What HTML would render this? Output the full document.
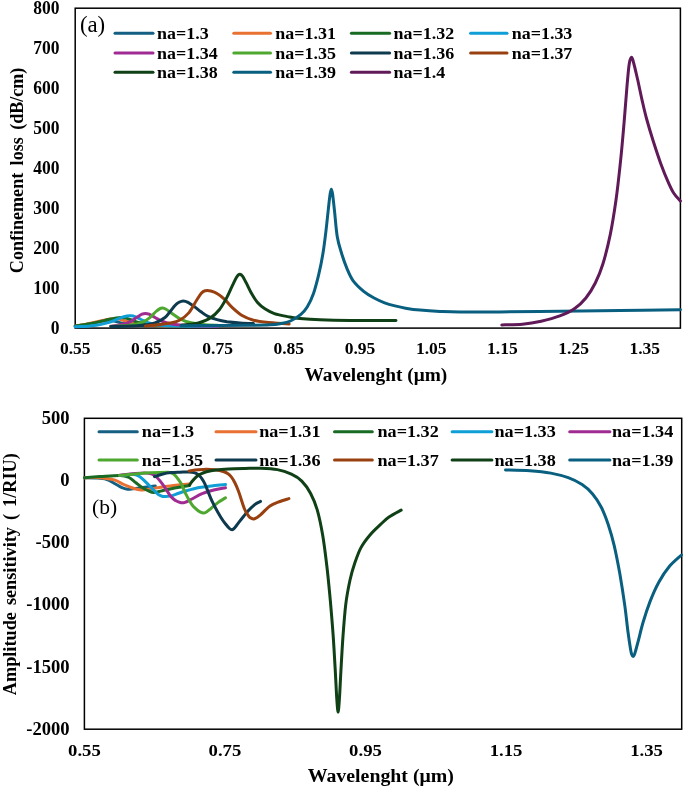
<!DOCTYPE html>
<html><head><meta charset="utf-8"><title>chart</title>
<style>html,body{margin:0;padding:0;background:#fff}svg{display:block;will-change:transform}text{font-family:"Liberation Serif",serif;fill:#000}</style></head><body>
<svg width="685" height="789" viewBox="0 0 685 789">
<rect width="685" height="789" fill="#fff"/>
<rect x="75.2" y="8.2" width="605.2" height="319.9" fill="none" stroke="#000" stroke-width="1.5"/>
<g fill="none" stroke-width="3.00" stroke-linecap="round" stroke-linejoin="round">
<path stroke="#156082" d="M75.2,326.2C76.8,326.0 81.7,325.4 85.0,324.8C88.3,324.2 92.0,323.4 95.0,322.8C98.0,322.2 100.8,321.4 103.0,321.0C105.2,320.6 106.3,320.3 108.0,320.3C109.7,320.3 111.0,320.4 113.0,320.8C115.0,321.2 117.2,322.0 120.0,322.6C122.8,323.2 125.6,324.1 130.0,324.6C134.4,325.1 143.7,325.6 146.4,325.8"/>
<path stroke="#E97132" d="M75.2,326.0C76.8,325.8 81.7,325.1 85.0,324.5C88.3,323.9 91.7,323.1 95.0,322.3C98.3,321.6 102.2,320.6 105.0,320.0C107.8,319.4 110.2,319.0 112.0,318.8C113.8,318.6 114.5,318.5 116.0,318.6C117.5,318.7 119.0,319.1 121.0,319.6C123.0,320.1 125.2,321.1 128.0,321.8C130.8,322.5 133.5,323.4 138.0,324.0C142.5,324.6 147.7,325.1 155.0,325.5C162.3,325.9 177.5,326.2 182.0,326.3"/>
<path stroke="#196B24" d="M75.2,326.0C77.7,325.6 85.0,324.7 90.0,323.8C95.0,322.9 100.8,321.3 105.0,320.4C109.2,319.5 112.3,318.7 115.0,318.2C117.7,317.7 119.3,317.5 121.0,317.4C122.7,317.3 123.3,317.4 125.0,317.8C126.7,318.2 128.5,319.0 131.0,319.8C133.5,320.6 136.5,322.0 140.0,322.8C143.5,323.6 145.0,324.2 152.0,324.8C159.0,325.4 177.0,326.0 182.0,326.2"/>
<path stroke="#0F9ED5" d="M75.2,326.8C77.7,326.6 85.9,326.3 90.0,325.9C94.1,325.5 96.5,325.3 100.0,324.6C103.5,323.9 107.3,323.1 110.8,321.9C114.3,320.7 118.3,318.6 121.0,317.6C123.7,316.6 125.3,316.3 127.0,316.0C128.7,315.7 129.7,315.7 131.0,315.8C132.3,315.9 133.3,316.0 135.0,316.6C136.7,317.2 138.8,318.5 141.0,319.5C143.2,320.5 145.2,321.9 148.0,322.8C150.8,323.7 153.5,324.5 158.0,325.0C162.5,325.5 165.1,325.8 175.0,326.0C184.9,326.2 210.5,326.4 217.6,326.5"/>
<path stroke="#A02B93" d="M110.8,326.3C112.7,326.0 118.8,325.2 122.0,324.5C125.2,323.8 127.5,323.0 130.0,321.8C132.5,320.6 135.0,318.5 137.0,317.2C139.0,315.9 140.6,314.8 142.0,314.2C143.4,313.6 144.1,313.4 145.3,313.4C146.5,313.4 147.4,313.5 149.0,314.2C150.6,314.9 152.8,316.3 155.0,317.5C157.2,318.7 159.2,320.1 162.0,321.2C164.8,322.3 167.3,323.3 172.0,324.0C176.7,324.7 182.4,325.2 190.0,325.6C197.6,326.0 213.0,326.1 217.6,326.2"/>
<path stroke="#4EA72E" d="M110.8,326.5C114.0,326.3 124.8,325.9 130.0,325.2C135.2,324.5 138.7,323.8 142.0,322.5C145.3,321.2 147.7,319.3 150.0,317.5C152.3,315.7 154.3,313.0 156.0,311.5C157.7,310.0 158.9,309.2 160.0,308.6C161.1,308.0 161.5,308.0 162.5,308.1C163.5,308.2 164.4,308.4 166.0,309.3C167.6,310.2 169.7,311.9 172.0,313.5C174.3,315.1 177.0,317.3 180.0,318.8C183.0,320.3 186.2,321.6 190.0,322.5C193.8,323.4 198.4,324.0 203.0,324.5C207.6,325.0 215.2,325.2 217.6,325.3"/>
<path stroke="#0D3A4E" d="M110.8,326.6C115.7,326.4 132.6,326.2 140.0,325.6C147.4,325.0 150.8,324.4 155.0,323.0C159.2,321.6 162.5,319.4 165.0,317.5C167.5,315.6 168.3,313.7 170.0,311.7C171.7,309.7 173.5,307.1 175.0,305.5C176.5,303.9 177.6,303.1 179.0,302.3C180.4,301.5 181.7,300.9 183.2,300.9C184.7,300.9 186.1,301.3 188.0,302.3C189.9,303.3 192.5,305.3 194.7,306.9C196.9,308.5 198.8,310.2 201.0,311.8C203.2,313.4 205.3,315.1 208.0,316.4C210.7,317.7 213.8,318.7 217.0,319.6C220.2,320.5 223.2,321.1 227.0,321.7C230.8,322.2 235.6,322.6 240.0,322.9C244.4,323.2 251.2,323.5 253.5,323.6"/>
<path stroke="#994010" d="M145.3,326.0C147.8,325.8 155.9,325.1 160.0,324.6C164.1,324.1 166.8,323.7 170.0,323.0C173.2,322.3 176.3,321.9 179.5,320.2C182.7,318.5 186.2,315.9 189.0,312.6C191.8,309.3 194.5,303.5 196.6,300.3C198.7,297.1 199.9,294.9 201.3,293.3C202.7,291.7 203.5,291.2 205.1,290.8C206.7,290.4 208.8,290.5 210.8,291.0C212.9,291.5 215.0,292.2 217.4,293.7C219.8,295.1 222.5,297.3 225.0,299.7C227.5,302.1 229.8,305.3 232.6,307.9C235.4,310.5 238.6,313.4 242.1,315.5C245.6,317.6 249.1,319.0 253.5,320.2C257.9,321.4 262.8,321.9 268.7,322.5C274.6,323.1 285.8,323.8 289.2,324.0"/>
<path stroke="#0F4016" d="M181.4,325.2C182.8,325.1 187.2,324.7 190.0,324.3C192.8,323.9 195.2,324.0 198.5,323.0C201.8,322.0 206.4,320.5 209.9,318.3C213.4,316.1 216.5,313.3 219.3,309.8C222.1,306.3 224.7,301.5 226.9,297.4C229.1,293.3 231.0,288.4 232.6,285.1C234.2,281.8 235.4,279.2 236.4,277.5C237.4,275.8 237.7,275.5 238.3,275.0C238.9,274.5 239.3,274.3 239.8,274.3C240.3,274.3 240.9,274.6 241.4,275.0C241.9,275.4 242.2,275.4 243.1,276.9C244.0,278.4 245.5,281.4 246.9,284.2C248.3,287.0 249.9,290.6 251.6,293.6C253.3,296.6 255.1,299.7 257.3,302.2C259.5,304.7 262.0,306.9 264.9,308.8C267.8,310.7 270.6,312.3 274.4,313.6C278.2,314.9 283.4,315.8 287.7,316.6C292.0,317.4 294.6,318.0 300.0,318.5C305.4,319.0 311.7,319.5 320.0,319.8C328.3,320.1 337.3,320.3 350.0,320.4C362.7,320.5 388.3,320.6 396.0,320.6"/>
<path stroke="#095F80" d="M181.0,325.7C187.5,325.7 208.5,325.6 220.0,325.5C231.5,325.4 241.7,325.4 250.0,325.3C258.3,325.2 265.0,325.1 270.0,324.8C275.0,324.5 276.6,324.3 280.0,323.7C283.4,323.1 287.0,322.6 290.5,321.0C294.0,319.4 298.1,316.6 300.9,314.3C303.7,312.0 305.1,310.5 307.2,307.0C309.3,303.5 311.6,298.8 313.5,293.4C315.4,288.0 317.1,281.2 318.7,274.6C320.3,268.0 321.7,261.0 322.9,253.7C324.1,246.4 325.1,238.3 326.0,230.6C326.9,222.9 327.8,213.8 328.5,207.6C329.2,201.4 329.7,196.6 330.2,193.5C330.7,190.4 330.9,189.2 331.3,189.2C331.7,189.2 331.9,189.7 332.5,193.5C333.1,197.3 333.8,204.6 334.6,211.8C335.4,219.0 336.1,229.9 337.3,236.9C338.5,243.9 340.1,248.5 341.7,253.7C343.3,258.9 345.0,263.8 346.9,268.3C348.8,272.8 350.4,277.0 353.2,280.8C356.0,284.6 360.2,288.4 363.7,291.3C367.2,294.2 370.6,296.1 374.1,298.0C377.6,299.9 381.1,301.5 384.6,302.8C388.1,304.1 391.5,305.0 395.0,305.9C398.5,306.8 401.3,307.5 405.5,308.2C409.7,308.9 414.2,309.6 420.0,310.1C425.8,310.7 433.3,311.2 440.0,311.5C446.7,311.8 450.0,312.0 460.0,312.1C470.0,312.2 483.3,312.0 500.0,311.9C516.7,311.8 540.0,311.4 560.0,311.2C580.0,311.0 599.9,310.7 620.0,310.5C640.1,310.3 670.3,309.9 680.4,309.8"/>
<path stroke="#601A58" d="M501.8,324.9C505.2,324.8 515.9,324.8 522.4,324.2C528.9,323.6 534.9,322.6 541.1,321.2C547.3,319.8 554.2,318.0 559.8,315.9C565.4,313.8 570.4,311.5 574.7,308.5C579.1,305.5 582.5,302.2 585.9,298.0C589.3,293.8 592.5,288.6 595.3,283.0C598.1,277.4 600.3,272.4 602.8,264.3C605.3,256.2 608.1,245.0 610.3,234.4C612.5,223.8 614.2,212.6 615.9,200.8C617.6,189.0 618.9,176.5 620.3,163.4C621.7,150.3 623.0,135.4 624.1,122.3C625.2,109.2 626.2,94.7 627.1,84.9C628.0,75.1 628.5,68.1 629.3,63.5C630.0,58.9 630.9,57.2 631.6,57.2C632.4,57.2 632.8,59.9 633.8,63.5C634.8,67.1 636.1,73.0 637.5,79.0C638.9,85.0 640.5,93.2 642.0,99.8C643.5,106.4 644.6,111.6 646.5,118.5C648.4,125.4 650.8,133.5 653.2,141.0C655.6,148.5 658.2,156.6 660.7,163.4C663.2,170.2 666.0,177.1 668.2,182.1C670.4,187.1 671.8,190.2 673.8,193.3C675.8,196.5 679.3,199.7 680.4,201.0"/>
</g>
<text transform="translate(59.50,333.75) scale(0.9620,1)" font-size="18.20" font-weight="bold" text-anchor="end">0</text>
<text transform="translate(59.50,293.79) scale(0.9620,1)" font-size="18.20" font-weight="bold" text-anchor="end">100</text>
<text transform="translate(59.50,253.82) scale(0.9620,1)" font-size="18.20" font-weight="bold" text-anchor="end">200</text>
<text transform="translate(59.50,213.86) scale(0.9620,1)" font-size="18.20" font-weight="bold" text-anchor="end">300</text>
<text transform="translate(59.50,173.90) scale(0.9620,1)" font-size="18.20" font-weight="bold" text-anchor="end">400</text>
<text transform="translate(59.50,133.94) scale(0.9620,1)" font-size="18.20" font-weight="bold" text-anchor="end">500</text>
<text transform="translate(59.50,93.97) scale(0.9620,1)" font-size="18.20" font-weight="bold" text-anchor="end">600</text>
<text transform="translate(59.50,54.01) scale(0.9620,1)" font-size="18.20" font-weight="bold" text-anchor="end">700</text>
<text transform="translate(59.50,14.05) scale(0.9620,1)" font-size="18.20" font-weight="bold" text-anchor="end">800</text>
<text transform="translate(75.20,353.50)" font-size="17.50" font-weight="bold" text-anchor="middle">0.55</text>
<text transform="translate(146.40,353.50)" font-size="17.50" font-weight="bold" text-anchor="middle">0.65</text>
<text transform="translate(217.60,353.50)" font-size="17.50" font-weight="bold" text-anchor="middle">0.75</text>
<text transform="translate(288.80,353.50)" font-size="17.50" font-weight="bold" text-anchor="middle">0.85</text>
<text transform="translate(360.00,353.50)" font-size="17.50" font-weight="bold" text-anchor="middle">0.95</text>
<text transform="translate(431.20,353.50)" font-size="17.50" font-weight="bold" text-anchor="middle">1.05</text>
<text transform="translate(502.40,353.50)" font-size="17.50" font-weight="bold" text-anchor="middle">1.15</text>
<text transform="translate(573.60,353.50)" font-size="17.50" font-weight="bold" text-anchor="middle">1.25</text>
<text transform="translate(644.80,353.50)" font-size="17.50" font-weight="bold" text-anchor="middle">1.35</text>
<text transform="translate(375.90,381.00) scale(1.0360,1)" font-size="18.70" font-weight="bold" text-anchor="middle">Wavelenght (μm)</text>
<text transform="translate(22.80,170.40) rotate(-90) scale(0.9670,1)" font-size="18.70" font-weight="bold" text-anchor="middle" word-spacing="3">Confinement loss (dB/cm)</text>
<text transform="translate(79.90,31.90)" font-size="22.80">(a)</text>
<line x1="115.0" y1="33.3" x2="153.0" y2="33.3" stroke="#156082" stroke-width="3.00" stroke-linecap="round"/>
<text transform="translate(157.00,38.90) scale(1.0400,1)" font-size="17.30" font-weight="bold">na=1.3</text>
<line x1="233.8" y1="33.3" x2="270.5" y2="33.3" stroke="#E97132" stroke-width="3.00" stroke-linecap="round"/>
<text transform="translate(275.30,38.90) scale(1.0400,1)" font-size="17.30" font-weight="bold">na=1.31</text>
<line x1="351.4" y1="33.3" x2="389.6" y2="33.3" stroke="#196B24" stroke-width="3.00" stroke-linecap="round"/>
<text transform="translate(393.50,38.90) scale(1.0400,1)" font-size="17.30" font-weight="bold">na=1.32</text>
<line x1="470.6" y1="33.3" x2="507.0" y2="33.3" stroke="#0F9ED5" stroke-width="3.00" stroke-linecap="round"/>
<text transform="translate(511.70,38.90) scale(1.0400,1)" font-size="17.30" font-weight="bold">na=1.33</text>
<line x1="115.0" y1="53.1" x2="153.0" y2="53.1" stroke="#A02B93" stroke-width="3.00" stroke-linecap="round"/>
<text transform="translate(157.00,58.70) scale(1.0400,1)" font-size="17.30" font-weight="bold">na=1.34</text>
<line x1="233.8" y1="53.1" x2="270.5" y2="53.1" stroke="#4EA72E" stroke-width="3.00" stroke-linecap="round"/>
<text transform="translate(275.30,58.70) scale(1.0400,1)" font-size="17.30" font-weight="bold">na=1.35</text>
<line x1="351.4" y1="53.1" x2="389.6" y2="53.1" stroke="#0D3A4E" stroke-width="3.00" stroke-linecap="round"/>
<text transform="translate(393.50,58.70) scale(1.0400,1)" font-size="17.30" font-weight="bold">na=1.36</text>
<line x1="470.6" y1="53.1" x2="507.0" y2="53.1" stroke="#994010" stroke-width="3.00" stroke-linecap="round"/>
<text transform="translate(511.70,58.70) scale(1.0400,1)" font-size="17.30" font-weight="bold">na=1.37</text>
<line x1="115.0" y1="72.2" x2="153.0" y2="72.2" stroke="#0F4016" stroke-width="3.00" stroke-linecap="round"/>
<text transform="translate(157.00,77.80) scale(1.0400,1)" font-size="17.30" font-weight="bold">na=1.38</text>
<line x1="233.8" y1="72.2" x2="270.5" y2="72.2" stroke="#095F80" stroke-width="3.00" stroke-linecap="round"/>
<text transform="translate(275.30,77.80) scale(1.0400,1)" font-size="17.30" font-weight="bold">na=1.39</text>
<line x1="351.4" y1="72.2" x2="389.6" y2="72.2" stroke="#601A58" stroke-width="3.00" stroke-linecap="round"/>
<text transform="translate(393.50,77.80) scale(1.0400,1)" font-size="17.30" font-weight="bold">na=1.4</text>
<rect x="84.4" y="418.3" width="597.3" height="310.9" fill="none" stroke="#000" stroke-width="1.5"/>
<g fill="none" stroke-width="3.00" stroke-linecap="round" stroke-linejoin="round">
<path stroke="#156082" d="M84.4,477.7C86.2,477.7 91.3,477.6 95.0,477.9C98.7,478.2 103.0,478.3 106.3,479.3C109.6,480.3 112.4,482.3 115.0,483.7C117.6,485.1 119.9,486.8 122.0,487.7C124.1,488.6 125.7,489.0 127.5,489.2C129.3,489.4 131.0,489.0 133.0,488.8C135.0,488.6 137.3,488.3 139.6,488.0C141.9,487.7 144.4,487.4 147.0,487.0C149.6,486.6 153.9,486.1 155.3,485.9"/>
<path stroke="#E97132" d="M84.4,477.7C86.2,477.7 91.3,477.5 95.0,477.6C98.7,477.7 103.0,478.0 106.3,478.4C109.6,478.8 112.1,479.1 115.0,480.1C117.9,481.1 120.9,483.2 123.8,484.5C126.7,485.8 130.0,487.1 132.6,488.0C135.2,488.9 137.4,489.6 139.6,489.8C141.8,490.1 144.3,489.6 146.0,489.5C147.7,489.4 146.4,489.4 150.0,488.9C153.6,488.4 161.2,487.1 167.6,486.3C174.0,485.5 185.1,484.4 188.6,484.0"/>
<path stroke="#196B24" d="M84.4,477.7C87.0,477.5 94.0,477.0 100.0,476.6C106.0,476.2 115.5,475.2 120.3,475.4C125.1,475.5 126.4,476.3 129.0,477.5C131.6,478.7 133.7,481.1 136.0,482.8C138.3,484.6 140.7,486.6 143.0,488.0C145.3,489.4 148.2,490.8 150.0,491.5C151.8,492.2 152.3,492.3 153.6,492.4C154.8,492.5 156.1,492.2 157.5,491.9C158.9,491.6 159.5,491.3 162.3,490.7C165.2,490.1 170.1,488.9 174.6,488.0C179.1,487.1 187.0,485.8 189.5,485.4"/>
<path stroke="#0F9ED5" d="M119.5,475.5C120.8,475.4 124.8,474.9 127.0,474.7C129.2,474.5 130.8,474.1 132.6,474.3C134.4,474.5 136.3,474.8 138.0,475.6C139.7,476.4 141.0,477.5 143.0,479.3C145.0,481.1 147.7,484.0 150.0,486.3C152.3,488.6 155.2,491.7 157.0,493.3C158.8,494.9 159.7,495.2 161.0,495.8C162.3,496.4 163.3,496.6 165.0,496.6C166.7,496.6 168.9,496.4 171.1,495.9C173.3,495.4 175.7,494.3 178.0,493.5C180.3,492.7 181.5,492.2 185.0,491.2C188.5,490.2 194.5,488.4 199.2,487.5C203.9,486.6 208.6,486.3 213.0,485.8C217.4,485.3 223.4,484.8 225.5,484.6"/>
<path stroke="#A02B93" d="M119.5,475.2C122.1,474.9 130.8,474.0 135.0,473.6C139.2,473.2 142.2,472.9 145.0,473.0C147.8,473.1 150.0,473.4 152.0,474.2C154.0,474.9 155.0,475.5 157.0,477.5C159.0,479.5 161.8,483.1 164.1,486.3C166.4,489.5 169.1,494.4 171.1,496.8C173.1,499.2 174.3,499.8 176.0,500.8C177.7,501.8 179.5,502.4 181.0,502.7C182.5,503.0 183.2,503.0 185.0,502.4C186.8,501.8 189.1,500.4 191.9,499.0C194.8,497.6 198.4,495.2 202.1,493.7C205.8,492.2 209.9,491.0 213.8,490.0C217.7,489.0 223.6,488.2 225.5,487.8"/>
<path stroke="#4EA72E" d="M119.5,475.4C122.1,475.2 129.9,474.4 135.0,474.0C140.1,473.6 144.6,473.1 150.0,472.8C155.4,472.5 164.0,472.2 167.6,472.2C171.2,472.2 170.3,472.6 171.5,473.0C172.7,473.4 173.5,473.9 174.6,474.9C175.7,475.9 176.8,477.4 178.0,479.0C179.2,480.6 180.3,481.9 181.6,484.5C182.9,487.1 184.3,491.0 186.0,494.4C187.7,497.8 190.2,502.2 191.9,504.6C193.6,507.0 194.7,507.7 196.0,508.9C197.3,510.1 198.7,511.2 200.0,511.9C201.3,512.6 202.5,513.1 203.6,513.1C204.7,513.1 205.5,512.6 206.5,512.0C207.5,511.4 207.5,511.3 209.4,509.7C211.3,508.1 215.5,504.4 218.2,502.4C220.9,500.4 224.3,498.6 225.5,497.8"/>
<path stroke="#0D3A4E" d="M154.5,476.6C155.8,476.2 159.2,474.9 162.0,474.2C164.8,473.5 168.1,472.9 171.1,472.6C174.1,472.3 177.0,472.3 180.0,472.2C183.0,472.1 186.7,471.8 189.0,471.9C191.3,472.0 192.6,472.2 194.0,472.6C195.4,473.0 196.5,473.4 197.7,474.2C198.9,475.0 199.8,475.8 201.0,477.5C202.2,479.2 203.1,480.2 205.0,484.2C206.9,488.2 209.6,496.1 212.3,501.7C215.0,507.3 218.8,514.0 221.1,517.8C223.4,521.6 224.6,522.7 226.0,524.5C227.4,526.3 228.5,527.6 229.5,528.5C230.5,529.4 231.2,529.7 232.0,529.7C232.8,529.7 233.2,529.2 234.0,528.5C234.8,527.8 234.5,528.0 236.5,525.5C238.5,523.0 242.9,516.9 245.9,513.4C248.9,509.9 252.3,506.6 254.7,504.6C257.1,502.6 259.5,501.9 260.5,501.4"/>
<path stroke="#994010" d="M189.0,471.0C190.5,470.8 195.1,470.1 198.0,469.8C200.9,469.5 203.7,469.2 206.5,469.2C209.3,469.2 212.1,469.4 215.0,469.8C217.9,470.2 221.8,471.1 224.0,471.8C226.2,472.5 226.8,473.0 228.0,473.8C229.2,474.6 230.1,475.4 231.3,476.9C232.5,478.4 233.8,480.6 235.0,483.0C236.2,485.4 237.0,487.2 238.6,491.5C240.2,495.8 242.8,504.9 244.5,509.0C246.2,513.1 247.6,514.7 248.8,516.3C250.0,517.9 250.7,518.0 251.5,518.4C252.3,518.8 253.1,519.0 253.9,518.9C254.7,518.8 255.4,518.5 256.5,517.8C257.6,517.1 258.2,516.9 260.5,514.9C262.8,512.9 266.8,508.2 270.0,506.0C273.2,503.8 276.9,502.7 280.0,501.5C283.1,500.3 287.4,499.1 288.9,498.6"/>
<path stroke="#0F4016" d="M189.7,484.9C190.1,484.3 190.9,482.8 192.0,481.5C193.1,480.2 195.0,478.1 196.3,476.9C197.6,475.7 198.3,475.1 200.0,474.3C201.7,473.5 203.8,472.5 206.5,471.8C209.2,471.1 212.3,470.5 216.0,470.0C219.7,469.5 223.6,469.2 228.4,468.9C233.2,468.6 239.7,468.5 245.0,468.4C250.3,468.3 254.6,468.0 260.0,468.2C265.4,468.4 272.2,468.6 277.4,469.6C282.6,470.6 287.3,472.3 291.4,474.2C295.5,476.1 298.6,477.9 301.8,481.1C305.0,484.3 307.9,488.4 310.5,493.3C313.1,498.2 315.5,503.8 317.5,510.8C319.5,517.8 321.1,525.9 322.7,535.2C324.3,544.5 325.6,555.5 326.9,566.5C328.2,577.5 329.3,589.8 330.4,601.4C331.4,613.0 332.4,624.6 333.2,636.2C334.0,647.8 334.7,660.6 335.3,671.1C335.9,681.6 336.3,692.1 336.8,699.0C337.3,705.9 337.7,712.2 338.1,712.2C338.5,712.2 338.9,705.9 339.4,699.0C339.9,692.1 340.3,681.6 340.9,671.1C341.5,660.6 342.2,647.2 343.0,636.2C343.8,625.2 344.6,614.2 345.7,604.9C346.8,595.6 348.4,587.5 349.9,580.5C351.4,573.5 352.9,568.5 354.8,563.0C356.7,557.5 358.6,552.0 361.1,547.4C363.6,542.8 366.6,539.0 369.8,535.2C373.0,531.4 377.1,527.7 380.3,524.7C383.5,521.7 385.5,519.4 389.0,517.0C392.5,514.6 399.2,511.2 401.2,510.1"/>
<path stroke="#095F80" d="M505.5,470.0C509.6,470.1 522.4,470.2 529.9,470.7C537.4,471.2 544.4,471.9 550.8,473.1C557.2,474.3 563.0,475.8 568.2,477.7C573.4,479.6 578.0,481.9 582.1,484.6C586.2,487.3 589.4,490.2 592.6,494.0C595.8,497.8 598.7,502.2 601.3,507.3C603.9,512.4 606.1,518.3 608.3,524.7C610.4,531.1 612.3,537.5 614.2,545.6C616.1,553.7 618.0,563.6 619.8,573.5C621.5,583.4 623.3,595.0 624.7,604.9C626.1,614.8 627.1,625.4 628.1,632.8C629.1,640.2 630.0,645.9 630.6,649.5C631.2,653.1 631.4,653.4 631.8,654.6C632.2,655.8 632.6,656.5 633.0,656.5C633.4,656.5 633.8,655.8 634.3,654.8C634.8,653.8 635.0,653.0 635.7,650.5C636.4,648.0 637.4,644.4 638.6,639.7C639.8,635.0 641.2,628.7 643.1,622.3C645.0,615.9 647.5,608.1 650.1,601.4C652.7,594.7 655.6,588.0 658.8,582.2C662.0,576.4 665.5,571.0 669.3,566.5C673.1,562.0 679.5,556.9 681.5,555.0"/>
</g>
<text transform="translate(69.60,423.90)" font-size="18.60" font-weight="bold" text-anchor="end">500</text>
<text transform="translate(69.60,486.08)" font-size="18.60" font-weight="bold" text-anchor="end">0</text>
<text transform="translate(69.60,548.26)" font-size="18.60" font-weight="bold" text-anchor="end">-500</text>
<text transform="translate(69.60,610.44)" font-size="18.60" font-weight="bold" text-anchor="end">-1000</text>
<text transform="translate(69.60,672.62)" font-size="18.60" font-weight="bold" text-anchor="end">-1500</text>
<text transform="translate(69.60,734.80)" font-size="18.60" font-weight="bold" text-anchor="end">-2000</text>
<text transform="translate(84.40,755.90) scale(1.0700,1)" font-size="17.50" font-weight="bold" text-anchor="middle">0.55</text>
<text transform="translate(224.94,755.90) scale(1.0700,1)" font-size="17.50" font-weight="bold" text-anchor="middle">0.75</text>
<text transform="translate(365.48,755.90) scale(1.0700,1)" font-size="17.50" font-weight="bold" text-anchor="middle">0.95</text>
<text transform="translate(506.02,755.90) scale(1.0700,1)" font-size="17.50" font-weight="bold" text-anchor="middle">1.15</text>
<text transform="translate(646.56,755.90) scale(1.0700,1)" font-size="17.50" font-weight="bold" text-anchor="middle">1.35</text>
<text transform="translate(380.80,781.80) scale(1.0620,1)" font-size="18.70" font-weight="bold" text-anchor="middle">Wavelenght (μm)</text>
<text transform="translate(16.00,574.20) rotate(-90) scale(0.9750,1)" font-size="18.70" font-weight="bold" text-anchor="middle" word-spacing="2.6">Amplitude sensitivity ( 1/RIU)</text>
<text transform="translate(92.00,513.60)" font-size="21.50">(b)</text>
<line x1="99.0" y1="431.8" x2="137.3" y2="431.8" stroke="#156082" stroke-width="3.00" stroke-linecap="round"/>
<text transform="translate(141.80,437.40) scale(1.0500,1)" font-size="17.30" font-weight="bold">na=1.3</text>
<line x1="216.0" y1="431.8" x2="256.0" y2="431.8" stroke="#E97132" stroke-width="3.00" stroke-linecap="round"/>
<text transform="translate(259.20,437.40) scale(1.0500,1)" font-size="17.30" font-weight="bold">na=1.31</text>
<line x1="334.5" y1="431.8" x2="372.3" y2="431.8" stroke="#196B24" stroke-width="3.00" stroke-linecap="round"/>
<text transform="translate(377.50,437.40) scale(1.0500,1)" font-size="17.30" font-weight="bold">na=1.32</text>
<line x1="452.1" y1="431.8" x2="491.9" y2="431.8" stroke="#0F9ED5" stroke-width="3.00" stroke-linecap="round"/>
<text transform="translate(494.50,437.40) scale(1.0500,1)" font-size="17.30" font-weight="bold">na=1.33</text>
<line x1="569.7" y1="431.8" x2="609.9" y2="431.8" stroke="#A02B93" stroke-width="3.00" stroke-linecap="round"/>
<text transform="translate(612.00,437.40) scale(1.0500,1)" font-size="17.30" font-weight="bold">na=1.34</text>
<line x1="99.0" y1="460.1" x2="137.3" y2="460.1" stroke="#4EA72E" stroke-width="3.00" stroke-linecap="round"/>
<text transform="translate(141.80,465.70) scale(1.0500,1)" font-size="17.30" font-weight="bold">na=1.35</text>
<line x1="216.0" y1="460.1" x2="256.0" y2="460.1" stroke="#0D3A4E" stroke-width="3.00" stroke-linecap="round"/>
<text transform="translate(259.20,465.70) scale(1.0500,1)" font-size="17.30" font-weight="bold">na=1.36</text>
<line x1="334.5" y1="460.1" x2="372.3" y2="460.1" stroke="#994010" stroke-width="3.00" stroke-linecap="round"/>
<text transform="translate(377.50,465.70) scale(1.0500,1)" font-size="17.30" font-weight="bold">na=1.37</text>
<line x1="452.1" y1="460.1" x2="491.9" y2="460.1" stroke="#0F4016" stroke-width="3.00" stroke-linecap="round"/>
<text transform="translate(494.50,465.70) scale(1.0500,1)" font-size="17.30" font-weight="bold">na=1.38</text>
<line x1="569.7" y1="460.1" x2="609.9" y2="460.1" stroke="#095F80" stroke-width="3.00" stroke-linecap="round"/>
<text transform="translate(612.00,465.70) scale(1.0500,1)" font-size="17.30" font-weight="bold">na=1.39</text>
</svg></body></html>
